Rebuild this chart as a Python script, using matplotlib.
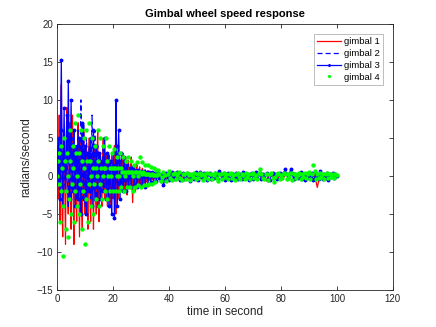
import numpy as np
import matplotlib
matplotlib.use("Agg")
import matplotlib.pyplot as plt

plt.rcParams['font.family'] = ['Liberation Sans', 'DejaVu Sans']

# time grids: 0.25 s steps at the start, then 1 s (gimbal 1, 2) or 0.5 s (gimbal 3, 4)
t_early = np.arange(0, 36, 0.25)
t_late_coarse = np.arange(36, 101, 1.0)
t_late_fine = np.arange(36, 100.5, 0.5)

# gimbal 1 (red)
g1_early = [
    0, 4, -3, 8, -6, 2, 12, -4,
    -8, 3, 6, -2, -9, 5, 9, -3,
    -5, 2, 7, -4, -7, 1, 8, -2,
    -9, 3, 4, -3, -6, 2, 7, -1,
    -8, 1, 5, -3, -7, 2, 6, -2,
    -5, 3, 4, -2, -7, 1, 5, -3,
    -6, 2, 3, -1, -7, 1, 4, -2,
    -5, 2, 6, -3, -6, 1, 3, -2,
    -4, 2, 5, -1, -3, 1, 3, -2,
    -4, 1, 2, -2, -4, 1, 3, -1,
    -3, 2, 4, -2, -5, 1, 3, -1,
    -3, 1, 2, -1, -2, 1, 3, -1,
    -2, 1, 2.5, -1, -2.5, 0.5, 2, -1,
    -1.5, 1, 2.5, -0.5, -3.5, 0.5, 1.5, -0.5,
    -2, 0.5, 1.5, -0.5, -1.5, 0.5, 1.2, -0.5,
    -1.2, 0.3, 1, -0.3, -1, 0.2, 0.8, -0.3,
    -0.8, 0.2, 0.7, -0.2, -0.6, 0.2, 0.5, -0.2,
    -0.5, 0.1, 0.4, -0.2, -0.4, 0.1, 0.3, -0.2,
]
g1_late = [
    0.3, -0.4, 0.2, -0.5, 0.3, -0.3, 0.2, -0.4, 0.3, -0.2,
    0.3, -0.4, 0.2, -0.3, 0.3, -0.2, 0.2, -0.3, 0.3, -0.2,
    0.2, -0.3, 0.2, -0.3, 0.3, -0.2, 0.2, -0.3, 0.2, -0.2,
    0.3, -0.3, 0.2, -0.2, 0.3, -0.3, 0.2, -0.2, 0.2, -0.7,
    0.3, -0.2, 0.2, -0.3, 0.2, -0.2, 0.3, -0.3, 0.2, -0.2,
    0.3, -0.3, 0.2, -0.2, 0.3, -0.3, 0.2, -1.5, 0.2, -0.3,
    0.2, -0.3, 0.2, -0.2, 0.1,
]

# gimbal 2 (blue dashed)
g2_early = [
    0, 2, -1, 4, -2, 1, 6, -2,
    -3, 2, 5, -1, -2, 1, 4, -2,
    -4, 1, 6, -2, -3, 2, 5, -1,
    -2, 1, 4, -2, -3, 2, 6, -1,
    -2, 3, 10, 2, -3, 1, 7, -2,
    -4, 1, 5, -1, -2, 1, 4, -2,
    -3, 2, 8, 1, -2, 2, 6, -1,
    -3, 1, 4, -1, -2, 1, 3, -1,
    -2, 1, 4, -1, -1.5, 0.5, 2, -1,
    -2, 1, 3, -0.5, -1, 0.5, 2, -0.5,
    -2, 0.5, 1.5, -0.5, -1, 0.5, 2, -0.5,
    -1.5, 0.5, 1.5, -0.5, -1, 0.3, 1, -0.3,
    -1, 0.3, 0.8, -0.3, -0.8, 0.3, 0.7, -0.3,
    -0.6, 0.2, 0.6, -0.2, -0.5, 0.2, 0.5, -0.2,
    -0.5, 0.2, 0.4, -0.2, -0.4, 0.1, 0.4, -0.1,
    -0.3, 0.1, 0.3, -0.1, -0.3, 0.1, 0.3, -0.1,
    -0.2, 0.1, 0.2, -0.1, -0.2, 0.1, 0.2, -0.1,
    -0.2, 0.1, 0.2, -0.1, -0.2, 0.1, 0.2, -0.1,
]
g2_late = [
    0.2, -0.2, 0.1, -0.2, 0.2, -0.1, 0.2, -0.2, 0.1, -0.2,
    0.2, -0.1, 0.2, -0.2, 0.1, -0.2, 0.2, -0.1, 0.2, -0.2,
    0.1, -0.2, 0.2, -0.1, 0.2, -0.2, 0.1, -0.2, 0.2, -0.1,
    0.2, -0.2, 0.1, -0.2, 0.2, -0.1, 0.2, -0.2, 0.1, -0.2,
    0.2, -0.1, 0.2, -0.2, 0.1, -0.2, 0.2, -0.1, 0.2, -0.2,
    0.1, -0.2, 0.2, -0.1, 0.2, -0.2, 0.1, -0.2, 0.2, -0.1,
    0.2, -0.2, 0.1, -0.2, 0.1,
]

# gimbal 3 (blue with dots)
g3_early = [
    0, 3, 5, -1, -3, 6, 15.3, 4,
    -4, 2, 9, 1, -2, 3, 8, 2,
    12.5, 5, -3, 4, 10, 2, -2, 3,
    6, 1, -4, 2, 4, 0, -3, 2,
    5, -1, -5, 3, 7, 1, -3, 2,
    4, -2, -5, 1, 3, 0, -2, 2,
    5, 1, -4, 2, 6, 1, -3, 1,
    4, 0, -4, 2, 3, -1, -3, 1,
    2, 0, -2, 1, 5, 1, -3, 1,
    3, 0, -4, 1, 2, -2, -5, 0,
    3, 0, -5.5, -2, 10, 4, -4, 1,
    6, 2, -3, 1, 3, 0, -2, 1,
    2.5, 0, -2, 0.5, 1.5, 0, -1.5, 0.5,
    1, 0, -1.5, 0.5, 1.2, 0, -1, 0.3,
    0.8, 0, -1.5, 0.2, 0.8, 0, -1.2, 0.2,
    0.7, 0, -1.2, 0.2, 0.6, 0, -1.5, 0.2,
    0.5, 0, -1, 0.1, 0.5, 0, -0.8, 0.1,
    0.5, 0, -0.8, 0.1, 0.4, 0, -0.6, 0.1,
]
g3_late = [
    0.5, -0.3, -0.6, 0.2, -1.2, -0.5, 0.4, -0.2, -0.5, 0.3,
    0.5, -0.2, -0.4, 0.3, 0.5, -0.3, -0.5, 0.2, 0.4, -0.4,
    -0.3, 0.4, 0.2, -0.6, -0.2, 0.3, -0.4, 0.5, 0.1, -0.5,
    0.5, -0.2, -0.3, 0.4, 0.3, -0.5, 0.2, 0.4, -0.4, -0.2,
    -0.3, 0.4, 0.2, -0.4, 0.6, 0.3, -0.3, 0.4, -0.5, 0.2,
    0.4, -0.3, -0.5, 0.3, 0.2, -0.3, 0.4, -0.4, 0.3, 0.2,
    -0.4, 0.5, 0.2, -0.3, 0.3, -0.5, 0.2, 0.4, -0.4, 0.3,
    0.5, -0.3, 0.2, 0.4, -0.4, 0.3, -0.3, 0.2, 0.4, -0.5,
    -0.5, 0.3, 0.4, -0.3, 0.2, -0.4, 0.3, 0.4, -0.3, 0.2,
    0.4, 0.9, 0.3, -0.3, 0.2, 0.9, 0.4, -0.4, 0.3, -0.2,
    -0.3, 0.4, 0.5, -0.4, 0.3, -0.5, 0.2, 0.4, -0.3, 0.3,
    0.4, -0.5, -0.3, 0.3, 0.2, -0.4, 0.7, 0.3, -0.4, 0.2,
    -0.3, 0.4, -0.5, 0.3, -0.2, 0.4, -0.3, 0.2, 0.0,
]

# gimbal 4 (green dots)
g4_early = [
    0, 2, 3, -1, -6, -2, 4, 1,
    -10.5, -4, 5, 2, -7, -2, 3, 0,
    -8, -3, 6, 2, -5, -1, 4, 1,
    -6, -2, 7, 3, -4, 0, 8, 3,
    -5, -1, 6, 2, -7, -2, 5, 1,
    -9, -3, 6, 2, -6, -1, 7, 2,
    -4, 0, 5, 1, -5, -1, 4, 1,
    -3, 0, 6, 2, -4, -1, 5, 1,
    -3, 0, 4, 1, -2, 1, 5, 2,
    -3, 0, 4, 1, -2, 0, 3, 1,
    -2, 1, 3.5, 1, -2, 0, 2.5, 1,
    -2, 0, 3, 1, -1.5, 0.5, 2.5, 0.5,
    -2, 0, 2, 0.5, -1.5, 0.5, 2.5, 0.5,
    -1.5, 0.5, 2, 0.5, -2, 0, 1.5, 0.5,
    -1.5, 0.5, 1.8, 0, -1.2, 0.5, 2.5, 0.5,
    -1.5, 0.2, 1.8, 0.5, -1.2, 0.3, 1.5, 0.2,
    -1.2, 0.2, 1.5, 0.3, -1, 0.1, 1.2, 0.2,
    -1, 0.1, 1, 0.1, -0.8, 0.1, 0.8, 0.1,
]
g4_late = [
    0.8, 0.2, -0.6, -0.2, 0.5, 0.1, -0.7, 0.3, 0.6, -0.3,
    -0.5, 0.2, 0.4, -0.4, 0.1, 0.5, -0.3, -0.5, 0.3, 0.2,
    -0.4, 0.4, 0.1, -0.5, 0.3, -0.1, 0.4, -0.4, 0.2, -0.3,
    0.4, 0.1, -0.5, 0.3, -0.2, 0.4, -0.4, 0.2, 0.3, -0.4,
    0.1, 0.4, -0.3, -0.7, 0.3, 0.2, -0.4, 0.4, -0.2, 0.3,
    -0.4, 0.2, 0.4, -0.3, 0.1, -0.5, 0.3, 0.4, -0.2, -0.4,
    0.3, 0.1, -0.4, 0.4, -0.2, 0.3, -0.4, 0.2, 0.4, -0.3,
    0.1, -0.4, 0.4, 0.9, 0.3, -0.3, -0.4, 0.2, 0.3, -0.5,
    0.2, 0.4, -0.3, -0.8, -0.2, 0.3, 0.4, -0.4, 0.1, -0.3,
    0.4, 0.2, -0.4, 0.3, -0.2, 0.4, -0.5, 0.2, 0.3, -0.3,
    0.1, 0.4, -0.4, 0.3, -0.2, 0.4, -0.3, 0.2, 0.5, -0.4,
    0.3, 1.4, 0.6, -0.4, 0.3, -0.3, 0.4, -0.2, 0.3, -0.4,
    0.2, 0.4, -0.3, 0.3, -0.2, 0.3, -0.3, 0.2, 0.1,
]

t12 = np.concatenate([t_early, t_late_coarse])
t34 = np.concatenate([t_early, t_late_fine])
g1 = np.array(g1_early + g1_late)
g2 = np.array(g2_early + g2_late)
g3 = np.array(g3_early + g3_late)
g4 = np.array(g4_early + g4_late)

x_ticks = [0, 20, 40, 60, 80, 100, 120]
y_ticks = [-15, -10, -5, 0, 5, 10, 15, 20]

fig = plt.figure(figsize=(4.36, 3.27), dpi=100)
ax = fig.add_axes([0.131, 0.113, 0.770, 0.814])

ax.plot(t12, g1, color='red', linewidth=0.9, label='gimbal 1')
ax.plot(t12, g2, color='blue', linestyle='--', linewidth=0.9,
        dashes=(4, 2.5), label='gimbal 2')
ax.plot(t34, g3, color='blue', linewidth=0.9, marker='.', markersize=3.6,
        label='gimbal 3')
ax.plot(t34, g4, color=(0, 1, 0), linestyle='none', marker='.', markersize=4.3,
        label='gimbal 4')

ax.set_xlim(0, 120)
ax.set_ylim(-15, 20)
ax.set_xticks(x_ticks)
ax.set_yticks(y_ticks)

axis_col = '#262626'
for s in ax.spines.values():
    s.set_color(axis_col)
    s.set_linewidth(0.6)
ax.tick_params(direction='in', length=3, width=0.6, colors=axis_col,
               labelsize=7, top=True, right=True, pad=3)

ax.set_title('Gimbal wheel speed response', fontsize=8, fontweight='bold',
             color='black', pad=5)
ax.set_xlabel('time in second', fontsize=8.5, color=axis_col, labelpad=1)
ax.set_ylabel('radians/second', fontsize=8.5, color=axis_col, labelpad=3)

leg = ax.legend(loc='upper right', fontsize=6.8, frameon=True, fancybox=False,
                borderpad=0.35, handlelength=2.5, handletextpad=0.3,
                labelspacing=0.3, borderaxespad=0.0, markerscale=0.6,
                bbox_to_anchor=(0.97, 0.962))
leg.get_frame().set_edgecolor('#a0a0a0')
leg.get_frame().set_linewidth(0.6)

fig.savefig('out.png', dpi=100)
